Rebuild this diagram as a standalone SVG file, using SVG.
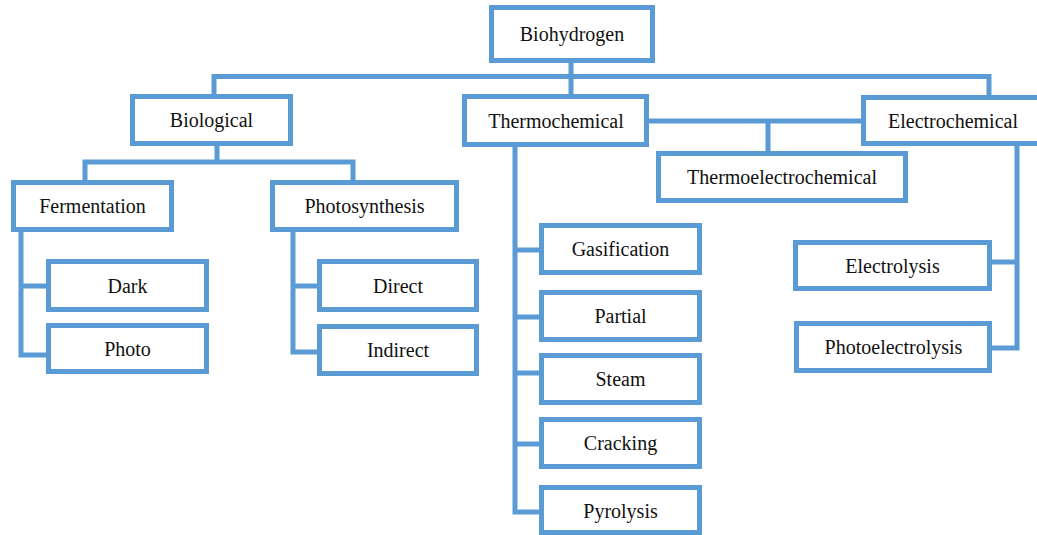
<svg xmlns="http://www.w3.org/2000/svg" width="1037" height="535" viewBox="0 0 1037 535">
<style>
.box{fill:#fff;stroke:#5b9bd5;stroke-width:5}
.c{fill:none;stroke:#5b9bd5;stroke-width:5}
text{font-family:"Liberation Serif","Times New Roman",serif;font-size:20px;fill:#111;text-anchor:middle}
</style>
<rect width="1037" height="535" fill="#fff"/>
<g id="connectors">
<path class="c" d="M571,63 V94"/>
<path class="c" d="M214,94 V76.5 H989 V95"/>
<path class="c" d="M217,146 V162 M85,180 V162 H353 V180"/>
<path class="c" d="M21,232 V355 H46 M21,286 H46"/>
<path class="c" d="M293,232 V352 H317 M293,286 H317"/>
<path class="c" d="M649,121 H861 M768,121 V151"/>
<path class="c" d="M515,147 V512 H539 M515,250 H539 M515,317 H539 M515,373 H539 M515,444 H539"/>
<path class="c" d="M1017,146 V348 H992 M1017,262 H992"/>
</g>
<g id="biohydrogen"><rect class="box" x="491.5" y="7.5" width="161" height="53"/><text x="572" y="41">Biohydrogen</text></g>
<g id="biological"><rect class="box" x="132.5" y="96.5" width="158" height="47"/><text x="211.5" y="127">Biological</text></g>
<g id="thermochemical"><rect class="box" x="464.5" y="96.5" width="182" height="48"/><text x="556" y="127.5">Thermochemical</text></g>
<g id="electrochemical"><rect class="box" x="863.5" y="97.5" width="179" height="46"/><text x="953" y="127.5">Electrochemical</text></g>
<g id="thermoelectrochemical"><rect class="box" x="658.5" y="153.5" width="247" height="47"/><text x="782" y="184">Thermoelectrochemical</text></g>
<g id="fermentation"><rect class="box" x="13.5" y="182.5" width="158" height="47"/><text x="92.5" y="213">Fermentation</text></g>
<g id="photosynthesis"><rect class="box" x="272.5" y="182.5" width="184" height="47"/><text x="364.5" y="213">Photosynthesis</text></g>
<g id="dark"><rect class="box" x="48.5" y="261.5" width="158" height="48"/><text x="127.5" y="292.5">Dark</text></g>
<g id="photo"><rect class="box" x="48.5" y="325.5" width="158" height="46"/><text x="127.5" y="355.5">Photo</text></g>
<g id="direct"><rect class="box" x="319.5" y="261.5" width="157" height="48"/><text x="398" y="292.5">Direct</text></g>
<g id="indirect"><rect class="box" x="319.5" y="326.5" width="157" height="47"/><text x="398" y="357">Indirect</text></g>
<g id="gasification"><rect class="box" x="541.5" y="225.5" width="158" height="47"/><text x="620.5" y="256">Gasification</text></g>
<g id="partial"><rect class="box" x="541.5" y="292.5" width="158" height="47"/><text x="620.5" y="323">Partial</text></g>
<g id="steam"><rect class="box" x="541.5" y="355.5" width="158" height="47"/><text x="620.5" y="386">Steam</text></g>
<g id="cracking"><rect class="box" x="541.5" y="419.5" width="158" height="47"/><text x="620.5" y="450">Cracking</text></g>
<g id="pyrolysis"><rect class="box" x="541.5" y="487.5" width="158" height="45"/><text x="620.5" y="518">Pyrolysis</text></g>
<g id="electrolysis"><rect class="box" x="795.5" y="242.5" width="194" height="46"/><text x="892.5" y="272.5">Electrolysis</text></g>
<g id="photoelectrolysis"><rect class="box" x="796.5" y="323.5" width="193" height="47"/><text x="893.5" y="354">Photoelectrolysis</text></g>
</svg>
